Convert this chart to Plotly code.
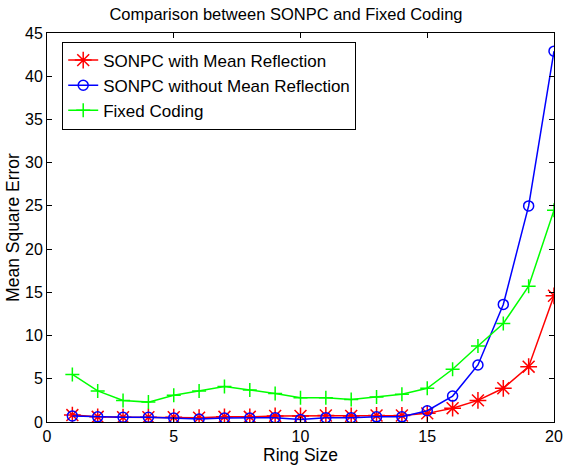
import plotly.graph_objects as go

ring_size = list(range(1, 21))
with_mean = [0.8, 0.6, 0.55, 0.55, 0.55, 0.5, 0.6, 0.6, 0.7, 0.7, 0.75, 0.7, 0.75, 0.75, 1.0, 1.6, 2.5, 3.9, 6.4, 14.6]
without_mean = [0.7, 0.6, 0.55, 0.55, 0.45, 0.35, 0.45, 0.45, 0.5, 0.3, 0.5, 0.5, 0.6, 0.6, 1.3, 3.0, 6.6, 13.6, 25.0, 42.9]
fixed_coding = [5.5, 3.6, 2.5, 2.3, 3.1, 3.6, 4.1, 3.7, 3.3, 2.8, 2.8, 2.6, 2.9, 3.2, 3.9, 6.1, 8.8, 11.4, 15.7, 24.5]

names = ["SONPC with Mean Reflection", "SONPC without Mean Reflection", "Fixed Coding"]
colors = ["#ff0000", "#0000ff", "#00ff00"]
symbols = ["asterisk-open", "circle-open", "cross-thin-open"]
sizes = [14, 10, 10]

FONT = "Liberation Sans, Arial, Helvetica, sans-serif"

fig = go.Figure()
for ys, nm, c, s, sz in zip([with_mean, without_mean, fixed_coding], names, colors, symbols, sizes):
    fig.add_trace(go.Scatter(
        x=ring_size, y=ys, name=nm, mode="lines+markers",
        line=dict(color=c, width=1.5),
        marker=dict(symbol=s, size=sz, color=c, line=dict(color=c, width=1.5)),
    ))

axis_common = dict(
    showline=True, linecolor="black", linewidth=1, mirror="ticks",
    ticks="inside", ticklen=5, tickcolor="black", showgrid=False, zeroline=False,
    automargin=False,
    tickfont=dict(family=FONT, size=16, color="black"),
)

fig.update_layout(
    width=564, height=468,
    margin=dict(l=47, r=10, t=33, b=46),
    plot_bgcolor="white", paper_bgcolor="white",
    title=dict(text="Comparison between SONPC and Fixed Coding", x=0.507, xanchor="center",
               y=1 - 14 / 468, yanchor="middle",
               font=dict(family=FONT, size=16.5, color="black")),
    font=dict(family=FONT, size=16, color="black"),
    xaxis=dict(range=[0, 20], dtick=5,
               title=dict(text="Ring Size", standoff=2, font=dict(family=FONT, size=17.5)),
               **axis_common),
    yaxis=dict(range=[0, 45], dtick=5,
               title=dict(text="Mean Square Error", standoff=0, font=dict(family=FONT, size=17.5)),
               **axis_common),
    legend=dict(x=0.03, y=0.978, xanchor="left", yanchor="top",
                bordercolor="black", borderwidth=1, bgcolor="white",
                font=dict(family=FONT, size=17), tracegroupgap=0, itemwidth=30),
    showlegend=True,
)

fig.write_html(
    "out.html",
    config={"displayModeBar": False},
    post_script="document.body.style.margin='0';document.body.style.padding='0';"
                "document.body.style.overflow='hidden';",
)
